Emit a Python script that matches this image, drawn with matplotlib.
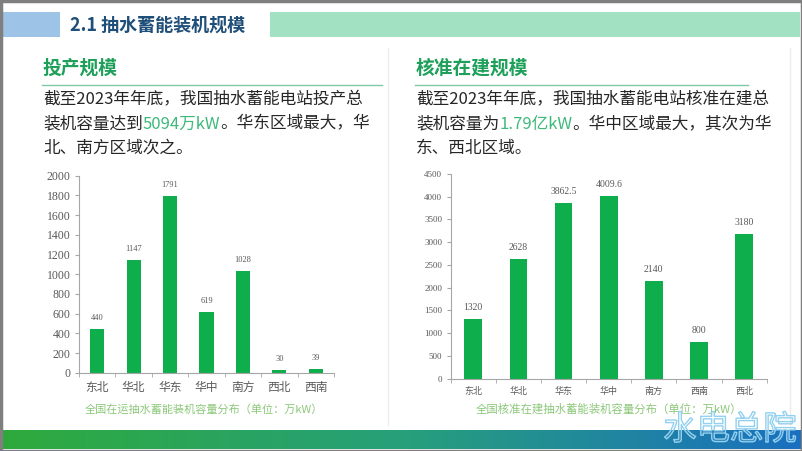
import numpy as np
import matplotlib.pyplot as plt
from matplotlib.patches import Rectangle
import matplotlib.patheffects as pe

CJK = ['Noto Sans CJK SC', 'DejaVu Sans']
SERIF = ['Liberation Serif', 'Noto Sans CJK SC']
plt.rcParams['font.family'] = CJK

# data
op_regions = ['东北', '华北', '华东', '华中', '南方', '西北', '西南']
op_values = [440, 1147, 1791, 619, 1028, 30, 39]
op_labels = ['440', '1147', '1791', '619', '1028', '30', '39']

bd_regions = ['东北', '华北', '华东', '华中', '南方', '西南', '西北']
bd_values = [1320, 2628, 3862.5, 4009.6, 2140, 800, 3180]
bd_labels = ['1320', '2628', '3862.5', '4009.6', '2140', '800', '3180']

W, H = 802, 451
BAR = '#0fae4c'
TXT = '#262626'
GRAY = '#595959'

fig = plt.figure(figsize=(W / 100, H / 100), dpi=100)
fig.patch.set_facecolor('white')
bg = fig.add_axes([0, 0, 1, 1], zorder=0)
bg.set_xlim(0, W); bg.set_ylim(H, 0); bg.axis('off')
renderer = fig.canvas.get_renderer()

# header
bg.add_patch(Rectangle((2, 12), 58, 25, color='#9dc3e6', lw=0))
bg.add_patch(Rectangle((270, 12), 530, 25, color='#a2e2c3', lw=0))
bg.text(70, 25, '2.1 抽水蓄能装机规模', color='#1f4e79', fontsize=13, fontweight='bold',
        va='center', ha='left')

# card edges
bg.plot([388, 388], [48, 425], color='#ececec', lw=1)
bg.plot([790, 790], [48, 425], color='#ececec', lw=1)


def draw_line(x, y, parts, size=12):
    for s, c in parts:
        t = bg.text(x, y, s, color=c, fontsize=size, va='center', ha='left')
        x += t.get_window_extent(renderer).width


def panel(x0, x1, title, lines):
    bg.text(x0, 68, title, color='#1fa05a', fontsize=13.5, fontweight='bold', va='center')
    bg.plot([x0 - 1, x1], [85, 85], color='#7fc9a4', lw=1)
    for y, parts in zip([100, 124, 148], lines):
        draw_line(x0, y, parts)


HL = '#3dba7a'
panel(43, 382, '投产规模', [
    [('截至2023年年底，我国抽水蓄能电站投产总', TXT)],
    [('装机容量达到', TXT), ('5094万kW', HL), ('。华东区域最大，华', TXT)],
    [('北、南方区域次之。', TXT)],
])
panel(416, 748, '核准在建规模', [
    [('截至2023年年底，我国抽水蓄能电站核准在建总', TXT)],
    [('装机容量为', TXT), ('1.79亿kW', HL), ('。华中区域最大，其次为华', TXT)],
    [('东、西北区域。', TXT)],
])


def chart(rect, cats, vals, labels, ymax, step, tsize, xsize, vsize, voff):
    ax = fig.add_axes(rect, zorder=1)
    ax.patch.set_alpha(0)
    x = np.arange(len(cats))
    ax.bar(x, vals, width=0.39, color=BAR, zorder=2)
    for xi, v, lab in zip(x, vals, labels):
        ax.annotate(lab, (xi, v), xytext=(0, voff), textcoords='offset points',
                    ha='center', va='bottom', fontsize=vsize, color=GRAY, family=SERIF)
    ax.set_xlim(-0.5, len(cats) - 0.5)
    ax.set_ylim(0, ymax)
    ax.set_yticks(np.arange(0, ymax + 1, step))
    ax.set_xticks(x)
    ax.set_xticklabels(cats, fontsize=xsize, color=GRAY)
    ax.set_xticks(np.arange(-0.5, len(cats)), minor=True)
    ax.tick_params(axis='x', which='major', length=0, pad=6)
    ax.tick_params(axis='x', which='minor', length=3, color='#a6a6a6', direction='out')
    ax.tick_params(axis='y', length=3, color='#a6a6a6', labelsize=tsize, labelcolor=GRAY, pad=3)
    for lab in ax.get_yticklabels():
        lab.set_family(SERIF)
    for s in ['top', 'right']:
        ax.spines[s].set_visible(False)
    for s in ['left', 'bottom']:
        ax.spines[s].set_color('#a6a6a6')
        ax.spines[s].set_linewidth(0.8)
    return ax


chart([79 / W, 78.3 / H, 255 / W, 197 / H], op_regions, op_values, op_labels,
      2000, 200, 8.5, 8.5, 6, 5)
chart([450.7 / W, 72.3 / H, 316 / W, 204.7 / H], bd_regions, bd_values, bd_labels,
      4500, 500, 6.5, 6.5, 7, 5)

# captions
CAP = '#8cc87a'
bg.text(204, 409, '全国在运抽水蓄能装机容量分布（单位：万kW）', color=CAP, fontsize=8,
        ha='center', va='center')
bg.text(609, 409, '全国核准在建抽水蓄能装机容量分布（单位：万kW）', color=CAP, fontsize=8.2,
        ha='center', va='center')

# bottom gradient band
grad = np.linspace(0, 1, 256)
cmap = plt.matplotlib.colors.LinearSegmentedColormap.from_list('band', ['#2eaa3c', '#27a07a', '#1a6fc0'])
bg.imshow(grad[None, :], cmap=cmap, aspect='auto', extent=(0, W, 449, 430), zorder=1)
bg.set_xlim(0, W); bg.set_ylim(H, 0)

# watermark
wm = bg.text(730, 430, '水电总院', fontsize=24, ha='center', va='center', color=(1, 1, 1, 0.05),
             zorder=5)
wm.set_path_effects([pe.withStroke(linewidth=1.0, foreground='#8fd0ef')])

# frame
bg.add_patch(Rectangle((0.5, 0.5), W - 1, H - 1, fill=False, ec='#7f7f7f', lw=2.5, zorder=6))

fig.savefig('out.png', dpi=100)
